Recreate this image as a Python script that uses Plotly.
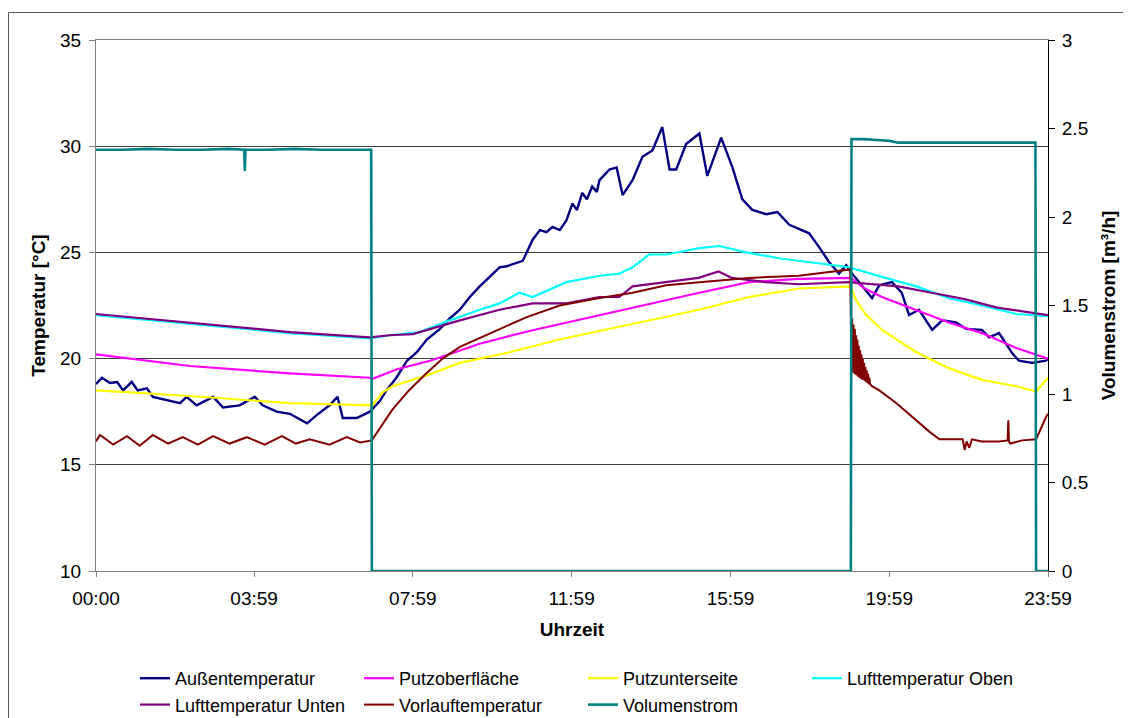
import plotly.graph_objects as go

# ---------------- data (minutes after midnight) ----------------
tick_minutes = [0, 239, 479, 719, 959, 1199, 1439]
tick_labels = ["00:00", "03:59", "07:59", "11:59", "15:59", "19:59", "23:59"]

aussen_t = [0, 9, 21, 32, 41, 54, 63, 77, 86, 107, 127, 137, 152, 177, 192, 217, 240, 252, 273, 293,
            319, 334, 353, 365, 373, 394, 414, 429, 439, 454, 470, 485, 500, 520, 535, 550, 565, 580,
            595, 610, 621, 636, 645, 651, 660, 671, 681, 690, 701, 711, 720, 727, 735, 742, 750, 757,
            761, 776, 787, 796, 811, 826, 841, 856, 867, 877, 892, 912, 924, 945, 962, 977, 992, 1013,
            1030, 1048, 1078, 1093, 1108, 1123, 1134, 1143, 1158, 1173, 1184, 1203, 1218, 1229, 1244,
            1264, 1279, 1300, 1315, 1339, 1350, 1365, 1385, 1395, 1415, 1436, 1439]
aussen_v = [18.8, 19.1, 18.85, 18.9, 18.5, 18.9, 18.5, 18.6, 18.2, 18.05, 17.9, 18.2, 17.8, 18.2, 17.7,
            17.8, 18.2, 17.8, 17.5, 17.4, 16.95, 17.35, 17.8, 18.2, 17.2, 17.2, 17.5, 18.0, 18.5, 19.1,
            19.9, 20.3, 20.9, 21.4, 21.9, 22.3, 22.9, 23.4, 23.85, 24.3, 24.35, 24.5, 24.6, 25.0, 25.6,
            26.05, 25.95, 26.2, 26.05, 26.5, 27.3, 27.0, 27.8, 27.5, 28.1, 27.85, 28.4, 28.9, 29.0, 27.7,
            28.4, 29.5, 29.8, 30.9, 28.9, 28.9, 30.1, 30.6, 28.6, 30.4, 29.0, 27.5, 27.0, 26.8, 26.9,
            26.3, 25.9, 25.25, 24.55, 24.0, 24.4, 24.0, 23.4, 22.85, 23.45, 23.6, 23.1, 22.05, 22.3,
            21.35, 21.8, 21.7, 21.4, 21.35, 21.0, 21.2, 20.25, 19.9, 19.8, 19.9, 20.0]

putzober_t = [0, 142, 293, 414, 418, 455, 505, 580, 655, 760, 862, 912, 987, 1062, 1141, 1162, 1188,
              1240, 1289, 1339, 1391, 1439]
putzober_v = [20.2, 19.65, 19.3, 19.1, 19.05, 19.5, 19.9, 20.7, 21.3, 22.05, 22.75, 23.1, 23.6, 23.75,
              23.8, 23.3, 22.9, 22.3, 21.7, 21.2, 20.5, 20.0]

putzunter_t = [0, 142, 293, 414, 418, 424, 433, 448, 499, 550, 625, 700, 776, 912, 987, 1062, 1141,
               1148, 1163, 1188, 1240, 1289, 1339, 1391, 1415, 1421, 1439]
putzunter_v = [18.5, 18.24, 17.9, 17.8, 17.8, 18.05, 18.4, 18.7, 19.2, 19.8, 20.3, 20.9, 21.4, 22.3,
               22.9, 23.3, 23.4, 22.8, 22.1, 21.35, 20.3, 19.55, 19.0, 18.7, 18.5, 18.45, 19.1]

luftoben_t = [0, 142, 293, 414, 444, 489, 535, 580, 610, 640, 660, 711, 761, 791, 811, 836, 862, 912,
              942, 983, 1037, 1089, 1138, 1188, 1240, 1289, 1339, 1391, 1439]
luftoben_v = [22.05, 21.65, 21.2, 20.95, 21.1, 21.25, 21.8, 22.3, 22.6, 23.1, 22.9, 23.6, 23.9, 24.0,
              24.3, 24.9, 24.9, 25.2, 25.3, 25.0, 24.7, 24.5, 24.3, 23.85, 23.4, 22.85, 22.5, 22.1, 22.0]

luftunten_t = [0, 142, 293, 414, 444, 479, 550, 610, 640, 660, 711, 761, 791, 811, 861, 911, 941, 961,
               1012, 1062, 1137, 1213, 1263, 1313, 1362, 1439]
luftunten_v = [22.1, 21.7, 21.25, 21.0, 21.1, 21.15, 21.8, 22.3, 22.5, 22.6, 22.6, 22.9, 22.9, 23.4,
               23.6, 23.8, 24.1, 23.8, 23.6, 23.5, 23.6, 23.4, 23.1, 22.8, 22.4, 22.05]

vorlauf_t = [0, 6, 26, 47, 66, 86, 109, 131, 154, 177, 202, 228, 255, 281, 302, 323, 353, 379, 399,
             417, 418, 433, 448, 473, 499, 524, 550, 600, 651, 701, 761, 811, 862, 912, 987, 1062, 1112,
             1140, 1141, 1142, 1143, 1144, 1145, 1146, 1147, 1148, 1149, 1150, 1151, 1152, 1153, 1154,
             1155, 1156, 1157, 1158, 1159, 1160, 1161, 1162, 1163, 1164, 1165, 1166, 1167, 1168, 1169,
             1170, 1173, 1184, 1210, 1234, 1260, 1275, 1310, 1313, 1316, 1320, 1324, 1339, 1365, 1378,
             1379, 1380, 1382, 1400, 1421, 1436, 1439]
vorlauf_v = [16.1, 16.4, 15.95, 16.35, 15.9, 16.4, 16.0, 16.3, 15.95, 16.35, 16.0, 16.3, 15.95, 16.35,
             16.0, 16.2, 15.95, 16.3, 16.05, 16.15, 16.2, 16.9, 17.6, 18.5, 19.3, 20.0, 20.55, 21.25,
             21.95, 22.5, 22.85, 23.1, 23.45, 23.6, 23.8, 23.9, 24.1, 24.2, 22.0, 19.4, 21.9, 19.35,
             21.6, 19.3, 21.4, 19.25, 21.1, 19.2, 20.9, 19.15, 20.6, 19.1, 20.4, 19.05, 20.2, 19.0,
             20.0, 19.0, 19.8, 18.95, 19.6, 18.9, 19.45, 18.85, 19.3, 18.8, 19.1, 18.8, 18.7, 18.5,
             17.9, 17.25, 16.55, 16.2, 16.2, 15.7, 16.1, 15.8, 16.2, 16.1, 16.1, 16.15, 17.1, 16.1,
             16.0, 16.15, 16.2, 17.25, 17.4]

volumen_t = [0, 40, 80, 120, 160, 200, 224, 225, 226, 260, 300, 340, 380, 416, 417, 1141, 1142, 1160,
             1180, 1200, 1212, 1240, 1300, 1360, 1420, 1421, 1439]
volumen_v = [2.38, 2.38, 2.385, 2.38, 2.38, 2.385, 2.38, 2.26, 2.38, 2.38, 2.385, 2.38, 2.38, 2.38, 0,
             0, 2.44, 2.44, 2.435, 2.43, 2.42, 2.42, 2.42, 2.42, 2.42, 0, 0]

series = [
    ("Außentemperatur", aussen_t, aussen_v, "#000080", 2.4, "y"),
    ("Putzoberfläche", putzober_t, putzober_v, "#FF00FF", 2.2, "y"),
    ("Putzunterseite", putzunter_t, putzunter_v, "#FFFF00", 2.2, "y"),
    ("Lufttemperatur Oben", luftoben_t, luftoben_v, "#00FFFF", 2.2, "y"),
    ("Lufttemperatur Unten", luftunten_t, luftunten_v, "#800080", 2.2, "y"),
    ("Vorlauftemperatur", vorlauf_t, vorlauf_v, "#800000", 2.0, "y"),
    ("Volumenstrom", volumen_t, volumen_v, "#008080", 2.6, "y2"),
]

FONT = "Liberation Sans, Arial, sans-serif"

fig = go.Figure()
for name, t, v, color, w, ax in series:
    fig.add_trace(go.Scatter(x=t, y=v, name=name, mode="lines", yaxis=ax,
                             line=dict(color=color, width=w)))

# page body has an 8px margin; figure sized so the plot lands where the reference has it
OFF = 8
W, H = 1131 - OFF, 718 - OFF
PL, PR, PT, PB = 96, 1048, 40, 571          # plot area in window pixels
L, T = PL - OFF, PT - OFF
R, B = W - (PR - OFF), H - (PB - OFF)
pw, ph = PR - PL, PB - PT

def px_x(p):
    return (p - PL) / pw

def px_y(p):
    return (PB - p) / ph

fig.update_layout(
    width=W, height=H,
    margin=dict(l=L, r=R, t=T, b=B, autoexpand=False),
    paper_bgcolor="white", plot_bgcolor="white",
    font=dict(family=FONT, size=19, color="black"),
    showlegend=True,
    legend=dict(orientation="h", x=px_x(135), y=px_y(660), xanchor="left", yanchor="top",
                font=dict(size=18, family=FONT), entrywidth=179, entrywidthmode="pixels",
                itemwidth=30, bgcolor="rgba(0,0,0,0)"),
    xaxis=dict(range=[0, 1439], tickvals=tick_minutes, ticktext=tick_labels,
               showgrid=False, zeroline=False, showline=True, linecolor="#808080", linewidth=1,
               mirror=True, ticks="outside", ticklen=5, tickcolor="#808080", ticklabelstandoff=5,
               title=dict(text="Uhrzeit", font=dict(size=19, weight="bold"), standoff=14)),
    yaxis=dict(range=[10, 35], dtick=5, showgrid=True, gridcolor="#404040", gridwidth=1,
               zeroline=False, showline=True, linecolor="#808080", linewidth=1,
               ticks="outside", ticklen=6, tickcolor="#808080", ticklabelstandoff=4,
               title=dict(text="Temperatur [°C]", font=dict(size=19, weight="bold"), standoff=9)),
    yaxis2=dict(range=[0, 3], dtick=0.5, overlaying="y", side="right", showgrid=False,
                zeroline=False, showline=True, linecolor="black", linewidth=1,
                ticks="outside", ticklen=6, tickcolor="black", ticklabelstandoff=3,
                title=dict(text="Volumenstrom [m³/h]", font=dict(size=19, weight="bold"), standoff=14)),
    shapes=[
        dict(type="line", xref="paper", yref="paper", x0=px_x(8.5), x1=px_x(1140), y0=px_y(12.5), y1=px_y(12.5),
             line=dict(color="#555555", width=1)),
        dict(type="line", xref="paper", yref="paper", x0=px_x(8.5), x1=px_x(8.5), y0=px_y(12.5), y1=px_y(730),
             line=dict(color="#555555", width=1)),
    ],
)

fig.write_html("out.html")
